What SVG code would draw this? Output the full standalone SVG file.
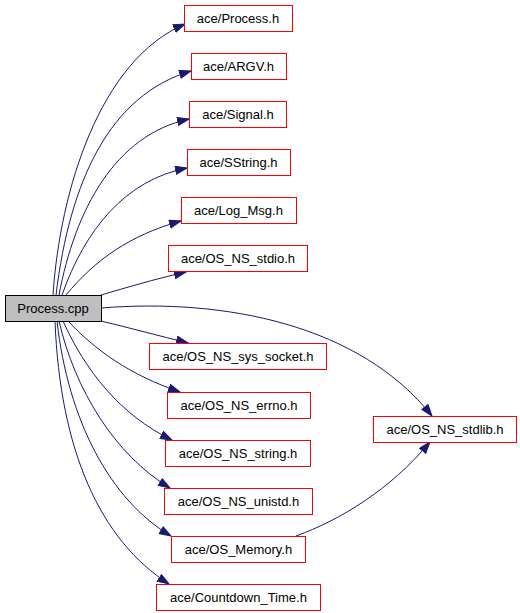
<svg xmlns="http://www.w3.org/2000/svg" width="520" height="613" viewBox="0 0 520 613">
<style>
.n rect{fill:#ffffff;stroke:#ff0000;stroke-width:1}
#n_cpp rect{fill:#bfbfbf;stroke:#000000}
text{font-family:"Liberation Sans",Arial,sans-serif;font-size:13px;fill:#000000;text-anchor:middle}
.e path{fill:none;stroke:#191970;stroke-width:1;marker-end:url(#arr)}
</style>
<defs>
<marker id="arr" markerUnits="userSpaceOnUse" markerWidth="14" markerHeight="10" refX="12" refY="4.5" orient="auto">
<path d="M0.5,0.5 L12,4.5 L0.5,8.5 z" fill="#191970" stroke="#191970" stroke-width="1"/>
</marker>
</defs>
<g id="edges" class="e">
<path d="M53,295 C60,190 100,60 185,24"/>
<path d="M56,295 C70,180 110,95 191,71"/>
<path d="M59,295 C75,210 115,135 189,119"/>
<path d="M62,295 C85,230 125,180 187,168"/>
<path d="M66,295 C95,260 130,235 181,221"/>
<path d="M101,295 C125,288 155,279 186,272"/>
<path d="M101,308 C225,298 360,325 432,416"/>
<path d="M101,321 C130,328 160,336 188,343"/>
<path d="M68,321 C95,350 130,375 180,392"/>
<path d="M63,321 C85,370 120,415 172,440"/>
<path d="M59,321 C75,390 115,455 170,488"/>
<path d="M57,321 C68,420 110,500 171,536"/>
<path d="M55,321 C60,450 100,540 169,584"/>
<path d="M296,536 C340,520 390,490 430,442"/>
</g>
<g id="n_cpp" class="n"><rect x="5.5" y="295.5" width="96" height="26"/><text x="53" y="313">Process.cpp</text></g>
<g id="n_process" class="n"><rect x="184.5" y="5.5" width="108" height="26"/><text x="238" y="23">ace/Process.h</text></g>
<g id="n_argv" class="n"><rect x="191.5" y="53.5" width="95" height="26"/><text x="238.5" y="71">ace/ARGV.h</text></g>
<g id="n_signal" class="n"><rect x="189.5" y="101.5" width="97" height="26"/><text x="238" y="119">ace/Signal.h</text></g>
<g id="n_sstring" class="n"><rect x="187.5" y="149.5" width="103" height="26"/><text x="238.5" y="167">ace/SString.h</text></g>
<g id="n_logmsg" class="n"><rect x="181.5" y="197.5" width="115" height="26"/><text x="238.5" y="215">ace/Log_Msg.h</text></g>
<g id="n_stdio" class="n"><rect x="168.5" y="245.5" width="139" height="26"/><text x="238" y="263">ace/OS_NS_stdio.h</text></g>
<g id="n_socket" class="n"><rect x="149.5" y="343.5" width="177" height="26"/><text x="238" y="361">ace/OS_NS_sys_socket.h</text></g>
<g id="n_errno" class="n"><rect x="167.5" y="392.5" width="143" height="26"/><text x="239" y="410">ace/OS_NS_errno.h</text></g>
<g id="n_string" class="n"><rect x="165.5" y="440.5" width="145" height="26"/><text x="238" y="458">ace/OS_NS_string.h</text></g>
<g id="n_unistd" class="n"><rect x="164.5" y="488.5" width="148" height="26"/><text x="238.5" y="506">ace/OS_NS_unistd.h</text></g>
<g id="n_memory" class="n"><rect x="171.5" y="536.5" width="134" height="26"/><text x="238.5" y="554">ace/OS_Memory.h</text></g>
<g id="n_countdown" class="n"><rect x="156.5" y="584.5" width="164" height="26"/><text x="238.5" y="602">ace/Countdown_Time.h</text></g>
<g id="n_stdlib" class="n"><rect x="373.5" y="416.5" width="143" height="26"/><text x="445" y="434">ace/OS_NS_stdlib.h</text></g>
</svg>
